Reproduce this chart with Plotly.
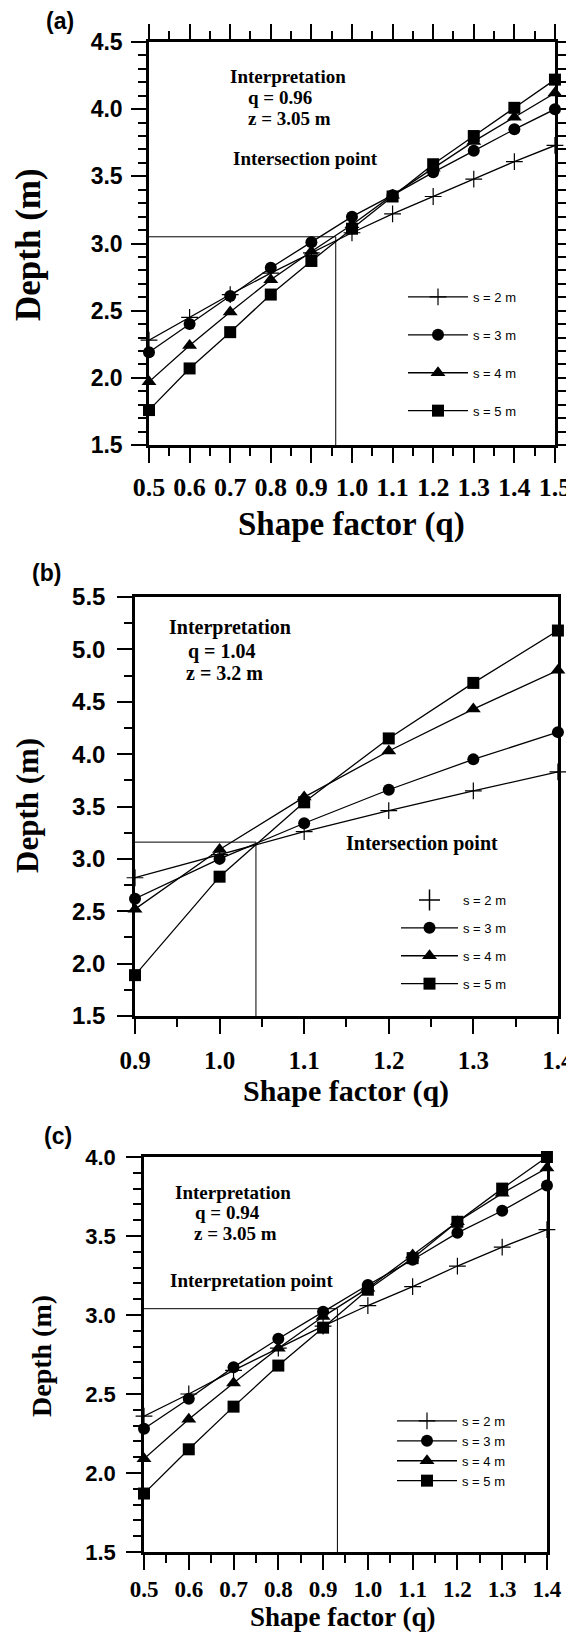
import plotly.graph_objects as go

# page is 574x1632; the plot div sits 8px from the page's top-left corner
OFF = 8
FW, FH = 574 - OFF, 1632 - OFF

# ---------------- data ----------------
q_a = [0.5, 0.6, 0.7, 0.8, 0.9, 1.0, 1.1, 1.2, 1.3, 1.4, 1.5]
a_s2 = [2.28, 2.45, 2.62, 2.78, 2.93, 3.08, 3.22, 3.35, 3.48, 3.61, 3.73]
a_s3 = [2.19, 2.40, 2.61, 2.82, 3.01, 3.20, 3.36, 3.53, 3.69, 3.85, 4.00]
a_s4 = [1.97, 2.24, 2.49, 2.73, 2.94, 3.14, 3.36, 3.56, 3.76, 3.94, 4.12]
a_s5 = [1.76, 2.07, 2.34, 2.62, 2.87, 3.11, 3.35, 3.59, 3.80, 4.01, 4.22]
a_q, a_z = 0.96, 3.05

q_b = [0.9, 1.0, 1.1, 1.2, 1.3, 1.4]
b_s2 = [2.82, 3.04, 3.26, 3.46, 3.65, 3.83]
b_s3 = [2.62, 3.00, 3.34, 3.66, 3.95, 4.21]
b_s4 = [2.52, 3.09, 3.59, 4.03, 4.43, 4.80]
b_s5 = [1.89, 2.83, 3.54, 4.15, 4.68, 5.18]
b_q, b_z = 1.043, 3.16

q_c = [0.5, 0.6, 0.7, 0.8, 0.9, 1.0, 1.1, 1.2, 1.3, 1.4]
c_s2 = [2.36, 2.50, 2.65, 2.79, 2.93, 3.06, 3.18, 3.31, 3.43, 3.54]
c_s3 = [2.28, 2.47, 2.67, 2.85, 3.02, 3.19, 3.35, 3.52, 3.66, 3.82]
c_s4 = [2.09, 2.34, 2.57, 2.79, 2.99, 3.17, 3.38, 3.59, 3.77, 3.93]
c_s5 = [1.87, 2.15, 2.42, 2.68, 2.92, 3.16, 3.36, 3.59, 3.80, 4.00]
c_q, c_z = 0.932, 3.04

labels = ["s = 2 m", "s = 3 m", "s = 4 m", "s = 5 m"]
symbols = ["cross-thin", "circle", "triangle-up", "square"]
msizes = [12, 12, 13, 12]

SERIF = "Liberation Serif"
SANS = "Liberation Sans"
EPS = 1e-4


def px(x):
    return (x - OFF) / FW


def py(y):
    return 1 - (y - OFF) / FH


fig = go.Figure()

panels = [
    ("x", "y", q_a, [a_s2, a_s3, a_s4, a_s5], a_q, a_z, "legend"),
    ("x2", "y2", q_b, [b_s2, b_s3, b_s4, b_s5], b_q, b_z, "legend2"),
    ("x3", "y3", q_c, [c_s2, c_s3, c_s4, c_s5], c_q, c_z, "legend3"),
]

for pi, (xa, ya, qs, series, qi, zi, lg) in enumerate(panels):
    xmin = qs[0]
    ymin = 1.5
    fig.add_trace(go.Scatter(
        x=[xmin, qi, qi], y=[zi, zi, ymin], mode="lines",
        line=dict(color="black", width=1), xaxis=xa, yaxis=ya,
        showlegend=False, hoverinfo="skip", cliponaxis=False))
    for si, vals in enumerate(series):
        sym = symbols[si]
        mk = dict(symbol=sym, size=msizes[si], color="black",
                  line=dict(color="black", width=1.2 if si == 0 else 0))
        legend_only_marker = (pi == 1 and si == 0)
        fig.add_trace(go.Scatter(
            x=qs, y=vals, mode="lines+markers", name=labels[si],
            line=dict(color="black", width=1.3), marker=mk,
            xaxis=xa, yaxis=ya, cliponaxis=False,
            legend=lg, legendgroup=f"{lg}_{si}",
            showlegend=not legend_only_marker))
        if legend_only_marker:
            fig.add_trace(go.Scatter(
                x=[None], y=[None], mode="markers", name=labels[si],
                marker=dict(symbol=sym, size=15, color="black",
                            line=dict(color="black", width=1.5)),
                xaxis=xa, yaxis=ya, legend=lg, legendgroup=f"{lg}_{si}"))


def xaxis_cfg(dom, rng, fs, mirror, standoff, anchor):
    return dict(
        domain=dom, range=[rng[0], rng[1] + EPS], showline=True, linecolor="black",
        linewidth=2.5, mirror=mirror, ticks="outside", ticklen=15, tickwidth=2,
        tickcolor="black", tick0=0.5, dtick=0.1, tickformat=".1f", showgrid=False,
        zeroline=False, automargin=False, anchor=anchor, ticklabeloverflow="allow",
        tickfont=dict(family=SERIF, size=fs, color="black", weight="bold"),
        ticklabelstandoff=standoff,
        minor=dict(tick0=0.05, dtick=0.05, ticks="outside", ticklen=8, tickwidth=2,
                   tickcolor="black", showgrid=False),
    )


def yaxis_cfg(dom, rng, fs, mirror, minor_dt, anchor, standoff):
    return dict(
        domain=dom, range=[rng[0], rng[1] + EPS], showline=True, linecolor="black",
        linewidth=2.5, mirror=mirror, ticks="outside", ticklen=15, tickwidth=2,
        tickcolor="black", tick0=0, dtick=0.5, tickformat=".1f", showgrid=False,
        zeroline=False, automargin=False, anchor=anchor,
        tickfont=dict(family=SANS, size=fs, color="black", weight="bold"),
        ticklabelstandoff=standoff,
        minor=dict(tick0=0, dtick=minor_dt, ticks="outside", ticklen=8, tickwidth=2,
                   tickcolor="black", showgrid=False),
    )


fig.update_layout(
    template="none",
    width=FW, height=FH, margin=dict(l=0, r=0, t=0, b=0, pad=0, autoexpand=False),
    paper_bgcolor="white", plot_bgcolor="white",
    xaxis=xaxis_cfg([px(149), px(555)], [0.5, 1.5], 26, "ticks", 2, "y"),
    yaxis=yaxis_cfg([py(445), py(42)], [1.5, 4.5], 23, "ticks", 0.1, "x", 4),
    xaxis2=xaxis_cfg([px(135), px(558)], [0.9, 1.4], 25, True, 5, "y2"),
    yaxis2=yaxis_cfg([py(1016), py(597)], [1.5, 5.5], 24, True, 0.25, "x2", 7),
    xaxis3=xaxis_cfg([px(144), px(547)], [0.5, 1.4], 23, True, 0, "y3"),
    yaxis3=yaxis_cfg([py(1552), py(1157)], [1.5, 4.0], 22, True, 0.1, "x3", 6),
)

leg_common = dict(font=dict(family=SANS, size=13, color="black"),
                  bgcolor="rgba(0,0,0,0)", borderwidth=0, traceorder="grouped",
                  xanchor="left", yanchor="top", itemsizing="trace")
fig.update_layout(
    legend=dict(leg_common, x=px(403), y=py(282), tracegroupgap=18, itemwidth=60),
    legend2=dict(leg_common, x=px(396), y=py(885), tracegroupgap=8, itemwidth=57),
    legend3=dict(leg_common, x=px(392), y=py(1406), tracegroupgap=0, itemwidth=60),
)

ann = []


def text(x, y, s, size, family=SERIF, angle=0, xanchor="left"):
    ann.append(dict(x=px(x), y=py(y), xref="paper", yref="paper", text=s,
                    showarrow=False, xanchor=xanchor, yanchor="middle",
                    textangle=angle,
                    font=dict(family=family, size=size, color="black", weight="bold")))


# panel labels
text(44, 21, "(a)", 23, SANS)
text(30, 573, "(b)", 23, SANS)
text(42, 1136, "(c)", 23, SANS)

# panel a
text(228, 76, "Interpretation", 19)
text(246, 98, "q = 0.96", 19)
text(246, 118, "z = 3.05 m", 19)
text(231, 159, "Intersection point", 19)
# panel b
text(167, 628, "Interpretation", 20)
text(186, 651, "q = 1.04", 20)
text(184, 673, "z = 3.2 m", 20)
text(344, 843, "Intersection point", 20)
# panel c
text(173, 1192, "Interpretation", 19)
text(193, 1212, "q = 0.94", 19)
text(192, 1233, "z = 3.05 m", 19)
text(168, 1280, "Interpretation point", 19)

# axis titles
text(351, 524, "Shape factor (q)", 33, xanchor="center")
text(346, 1091, "Shape factor (q)", 30, xanchor="center")
text(343, 1617, "Shape factor (q)", 27, xanchor="center")
text(28, 245, "Depth (m)", 35, angle=-90, xanchor="center")
text(27, 806, "Depth (m)", 31, angle=-90, xanchor="center")
text(41, 1356, "Depth (m)", 28, angle=-90, xanchor="center")

fig.update_layout(annotations=ann)

fig.write_html("out.html")
